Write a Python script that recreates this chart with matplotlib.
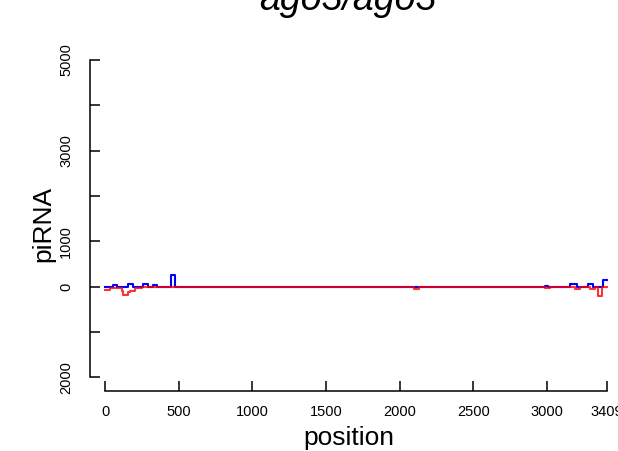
"""Coverage profile of piRNA reads along the transcript, ago3/ago3 library.

Sense reads in blue, antisense in red (drawn over the top, semi-transparent).
Writes out.png.
"""
import matplotlib

matplotlib.use("Agg")
import matplotlib.pyplot as plt

BLUE, RED, INK = "#0000ff", "#ff0000", "#000000"
SEQ_LEN = 3409

# step profiles: value holds from each position up to the next one
blue_pos = [0, 54, 80, 156, 190, 258, 292, 326, 353, 446, 476,
            2988, 3008, 3157, 3203, 3280, 3314, 3384, SEQ_LEN]
blue_val = [0, 35, 0, 60, 0, 50, 0, 35, 0, 260, 0,
            20, 0, 50, 0, 50, 0, 145, 145]

red_pos = [0, 35, 85, 113, 122, 156, 170, 204, 251,
           2100, 2130, 2988, 3022, 3191, 3225, 3293, 3327, 3345, 3377, SEQ_LEN]
red_val = [-75, -40, -20, -100, -185, -120, -90, -40, 0,
           -60, 0, -40, 0, -60, 0, -50, 0, -205, 0, 0]

x_ticks = [0, 500, 1000, 1500, 2000, 2500, 3000, SEQ_LEN]
x_labels = ["0", "500", "1000", "1500", "2000", "2500", "3000", "3409"]
y_ticks = [-2000, -1000, 0, 1000, 2000, 3000, 4000, 5000]
y_labels = ["2000", "", "0", "1000", "", "3000", "", "5000"]

plt.rcParams["font.family"] = ["Liberation Sans", "DejaVu Sans"]


def main() -> None:
    fig = plt.figure(figsize=(6.18, 4.51), dpi=100)
    ax = fig.add_axes([90 / 618, 60 / 451, 522 / 618, 346 / 451])

    ax.step(blue_pos, blue_val, where="post", color=BLUE, linewidth=1.5)
    ax.step(red_pos, red_val, where="post", color=RED, linewidth=1.5, alpha=0.8)

    ax.set_xlim(-102, 3443)
    ax.set_ylim(-2303, 5330)

    for side in ("top", "right"):
        ax.spines[side].set_visible(False)
    ax.spines["left"].set_bounds(-2000, 5000)
    ax.spines["bottom"].set_bounds(0, SEQ_LEN)
    for side in ("left", "bottom"):
        ax.spines[side].set_linewidth(1.1)

    ax.set_xticks(x_ticks, x_labels, fontsize=10.5)
    ax.set_yticks(y_ticks, y_labels, fontsize=10.5, rotation=90, va="center")
    ax.tick_params(direction="in", length=7.2, width=1.1, colors=INK)
    ax.tick_params(axis="x", pad=10)
    ax.tick_params(axis="y", pad=12)

    ax.set_xlabel("position", fontsize=19, color=INK)
    ax.xaxis.set_label_coords(0.495, -0.136)
    ax.xaxis.label.set_va("center")
    ax.set_ylabel("piRNA", fontsize=19, color=INK)
    ax.yaxis.set_label_coords(-0.090, 0.482)
    ax.yaxis.label.set_va("center")

    fig.text(348 / 618, 1 - 10 / 451, "ago3/ago3", ha="center", va="baseline",
             fontsize=27, style="italic", color=INK)

    fig.savefig("out.png", dpi=100)
    plt.close(fig)


if __name__ == "__main__":
    main()
